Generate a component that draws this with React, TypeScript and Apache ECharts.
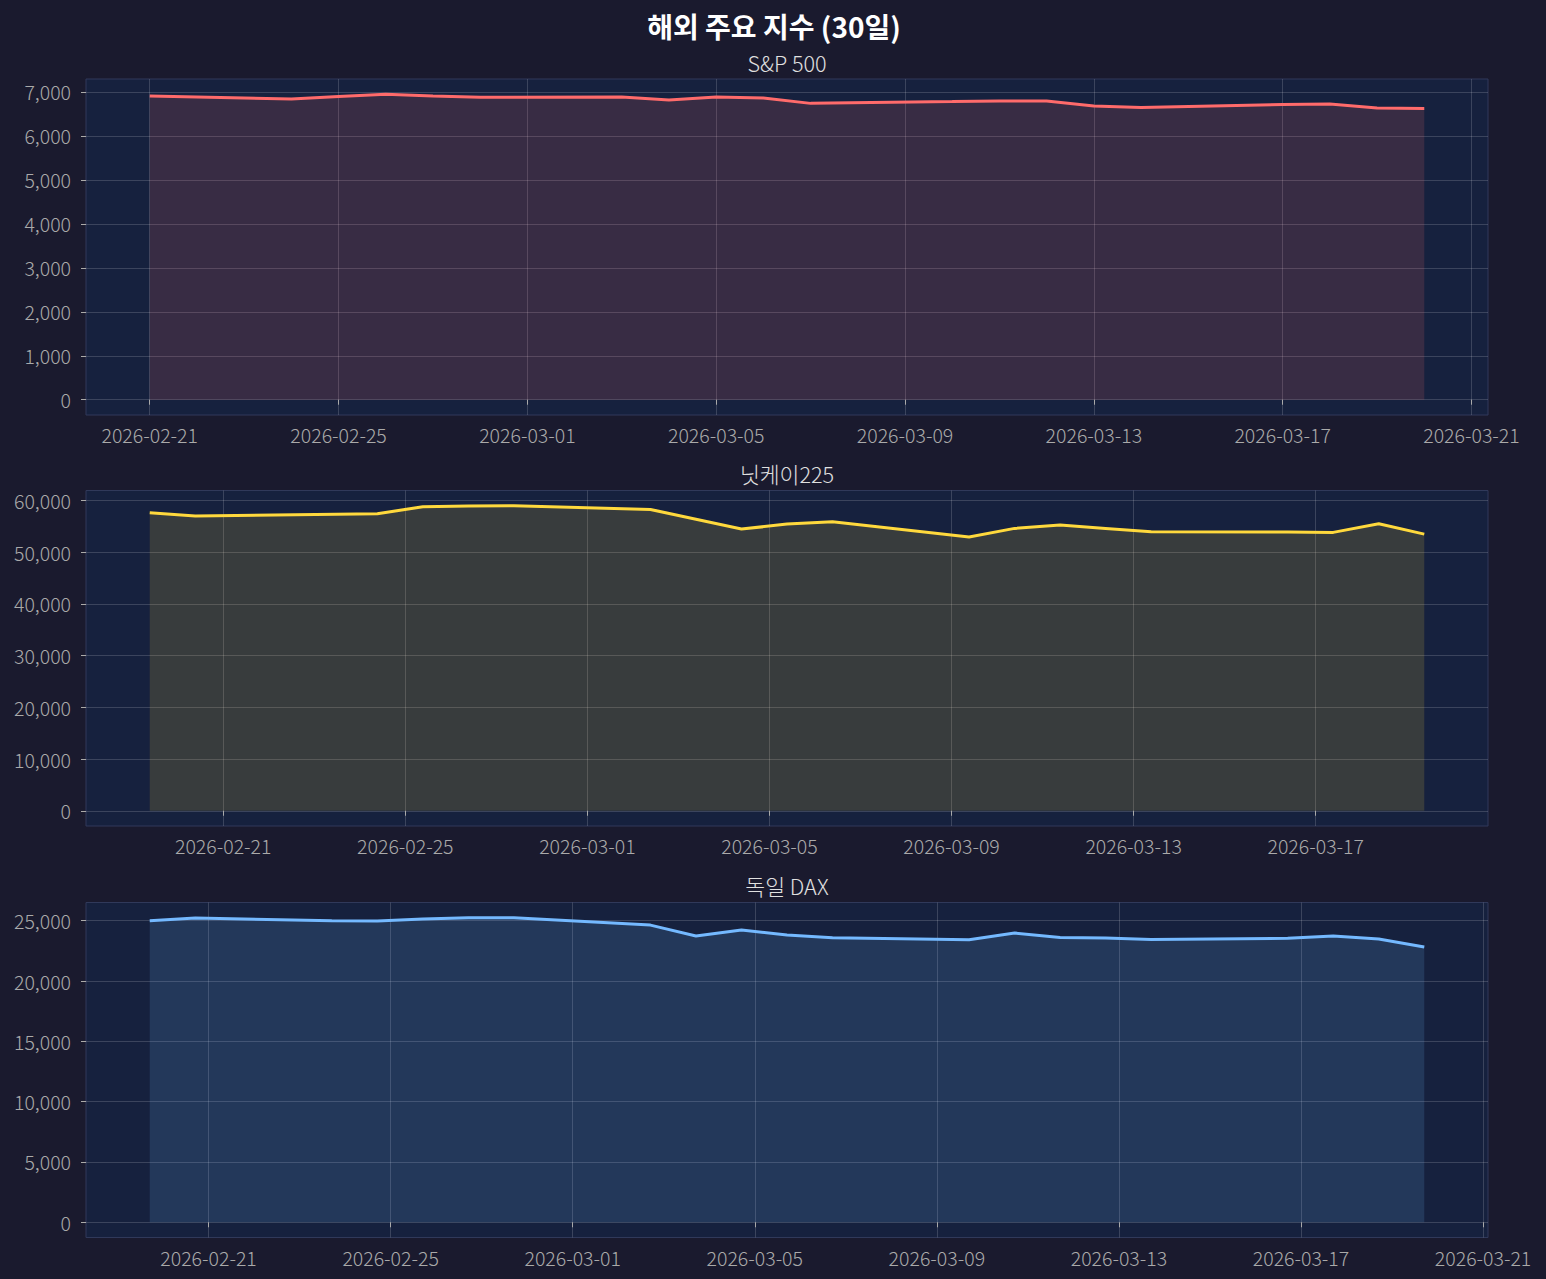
import React, { useEffect, useRef } from 'react';
import * as echarts from 'echarts';

// ---------- data ----------
const spDates = ['2026-02-21', '2026-02-24', '2026-02-25', '2026-02-26', '2026-02-27', '2026-02-28', '2026-03-03', '2026-03-04', '2026-03-05', '2026-03-06', '2026-03-07', '2026-03-10', '2026-03-11', '2026-03-12', '2026-03-13', '2026-03-14', '2026-03-17', '2026-03-18', '2026-03-19', '2026-03-20'];
const spValues = [6909, 6841, 6894, 6947, 6910, 6880, 6886, 6818, 6886, 6864, 6740, 6780, 6795, 6795, 6682, 6648, 6716, 6727, 6636, 6625];

const nikkeiDates = ['2026-02-19T09:15', '2026-02-20T09:15', '2026-02-24T09:15', '2026-02-25T09:15', '2026-02-26T09:15', '2026-02-27T09:15', '2026-03-02T09:15', '2026-03-03T09:15', '2026-03-04T09:15', '2026-03-05T09:15', '2026-03-06T09:15', '2026-03-09T09:15', '2026-03-10T09:15', '2026-03-11T09:15', '2026-03-12T09:15', '2026-03-13T09:15', '2026-03-16T09:15', '2026-03-17T09:15', '2026-03-18T09:15', '2026-03-19T09:15'];
const nikkeiValues = [57630, 56980, 57440, 58790, 58910, 58980, 58270, 56370, 54470, 55430, 55890, 52920, 54600, 55240, 54600, 53960, 53900, 53830, 55500, 53500];

const daxDates = ['2026-02-19T17:00', '2026-02-20T17:00', '2026-02-23T17:00', '2026-02-24T17:00', '2026-02-25T17:00', '2026-02-26T17:00', '2026-02-27T17:00', '2026-03-02T17:00', '2026-03-03T17:00', '2026-03-04T17:00', '2026-03-05T17:00', '2026-03-06T17:00', '2026-03-09T17:00', '2026-03-10T17:00', '2026-03-11T17:00', '2026-03-12T17:00', '2026-03-13T17:00', '2026-03-16T17:00', '2026-03-17T17:00', '2026-03-18T17:00', '2026-03-19T17:00'];
const daxValues = [25000, 25220, 25000, 24970, 25140, 25250, 25250, 24640, 23730, 24230, 23810, 23590, 23430, 23980, 23620, 23570, 23450, 23540, 23730, 23480, 22820];

const xTickDates = ['2026-02-21', '2026-02-25', '2026-03-01', '2026-03-05', '2026-03-09', '2026-03-13', '2026-03-17', '2026-03-21'];
const spTicks = [0, 1000, 2000, 3000, 4000, 5000, 6000, 7000];
const nikkeiTicks = [0, 10000, 20000, 30000, 40000, 50000, 60000];
const daxTicks = [0, 5000, 10000, 15000, 20000, 25000];

const mainTitle = '해외 주요 지수 (30일)';
const panelTitles = ['S&P 500', '닛케이225', '독일 DAX'];
const panelColors = ['#ff6b6b', '#ffd93d', '#74b9ff'];

// ---------- helpers ----------
const toMs = (s: string) => new Date(s.length === 10 ? s + 'T00:00:00Z' : s + ':00Z').getTime();
const fmtDate = (v: number) => new Date(v).toISOString().slice(0, 10);
const FONT = '"Noto Sans CJK KR", "Noto Sans", sans-serif';
const TICK_FONT_SIZE = 19.5;

const panels = [
  { dates: spDates, values: spValues, yTicks: spTicks },
  { dates: nikkeiDates, values: nikkeiValues, yTicks: nikkeiTicks },
  { dates: daxDates, values: daxValues, yTicks: daxTicks },
];

const gridBoxes = [
  { top: 79, height: 336 },
  { top: 490.5, height: 335.5 },
  { top: 902.5, height: 335 },
];
const GRID_LEFT = 86;
const GRID_WIDTH = 1402;

export default function App() {
  const ref = useRef<HTMLDivElement>(null);

  useEffect(() => {
    if (!ref.current) return;
    const chart = echarts.init(ref.current, null, { renderer: 'svg' });
    const xTicks = xTickDates.map(toMs);

    const grids: any[] = [];
    const xAxes: any[] = [];
    const yAxes: any[] = [];
    const series: any[] = [];
    const graphics: any[] = [
      {
        type: 'text',
        x: 774,
        y: 25.5,
        style: {
          text: mainTitle,
          fill: '#ffffff',
          fontSize: 28,
          fontWeight: 'bold',
          fontFamily: FONT,
          textAlign: 'center',
          textVerticalAlign: 'middle',
        },
      },
    ];

    panels.forEach((p, i) => {
      const xs = p.dates.map(toMs);
      const x0 = xs[0];
      const x1 = xs[xs.length - 1];
      const span = x1 - x0;
      const vmax = Math.max(...p.values);
      const g = gridBoxes[i];
      grids.push({
        left: GRID_LEFT,
        top: g.top,
        width: GRID_WIDTH,
        height: g.height,
        show: true,
        backgroundColor: '#16213e',
        borderColor: '#30395a',
        borderWidth: 1,
        containLabel: false,
        outerBoundsMode: 'none',
      });
      xAxes.push({
        type: 'value',
        gridIndex: i,
        min: x0 - span * 0.05,
        max: x1 + span * 0.05,
        axisLine: { show: false },
        axisTick: {
          show: true,
          customValues: xTicks,
          length: 5,
          lineStyle: { color: '#aaaaaa', width: 1 },
        },
        axisLabel: {
          customValues: xTicks,
          formatter: (v: number) => fmtDate(v),
          color: '#aaaaaa',
          fontSize: TICK_FONT_SIZE,
          fontWeight: 300,
          fontFamily: FONT,
          margin: 10,
        },
        splitLine: { show: true, lineStyle: { color: 'rgba(255,255,255,0.16)', width: 1 } },
      });
      yAxes.push({
        type: 'value',
        gridIndex: i,
        min: -vmax * 0.05,
        max: vmax * 1.05,
        axisLine: { show: false },
        axisTick: {
          show: true,
          customValues: p.yTicks,
          length: 5,
          lineStyle: { color: '#aaaaaa', width: 1 },
        },
        axisLabel: {
          customValues: p.yTicks,
          formatter: (v: number) => v.toLocaleString('en-US'),
          color: '#aaaaaa',
          fontSize: TICK_FONT_SIZE,
          fontWeight: 300,
          fontFamily: FONT,
          margin: 15,
        },
        splitLine: { show: true, lineStyle: { color: 'rgba(255,255,255,0.16)', width: 1 } },
      });
      series.push({
        type: 'line',
        xAxisIndex: i,
        yAxisIndex: i,
        data: xs.map((x, k) => [x, p.values[k]]),
        showSymbol: false,
        symbol: 'none',
        lineStyle: { color: panelColors[i], width: 3 },
        itemStyle: { color: panelColors[i] },
        areaStyle: { color: panelColors[i], opacity: 0.15, origin: 'auto' },
        z: 3,
      });
      graphics.push({
        type: 'text',
        x: GRID_LEFT + GRID_WIDTH / 2,
        y: g.top - 17,
        style: {
          text: panelTitles[i],
          fill: '#e0e0e0',
          fontSize: 21.6,
          fontWeight: 300,
          fontFamily: FONT,
          textAlign: 'center',
          textVerticalAlign: 'middle',
        },
      });
    });

    chart.setOption({
      animation: false,
      backgroundColor: '#1a1a2e',
      grid: grids,
      xAxis: xAxes,
      yAxis: yAxes,
      series,
      graphic: graphics,
    });

    return () => chart.dispose();
  }, []);

  return (
    <div
      ref={ref}
      style={{ position: 'absolute', left: 0, top: 0, width: 1546, height: 1279, background: '#1a1a2e' }}
    />
  );
}
